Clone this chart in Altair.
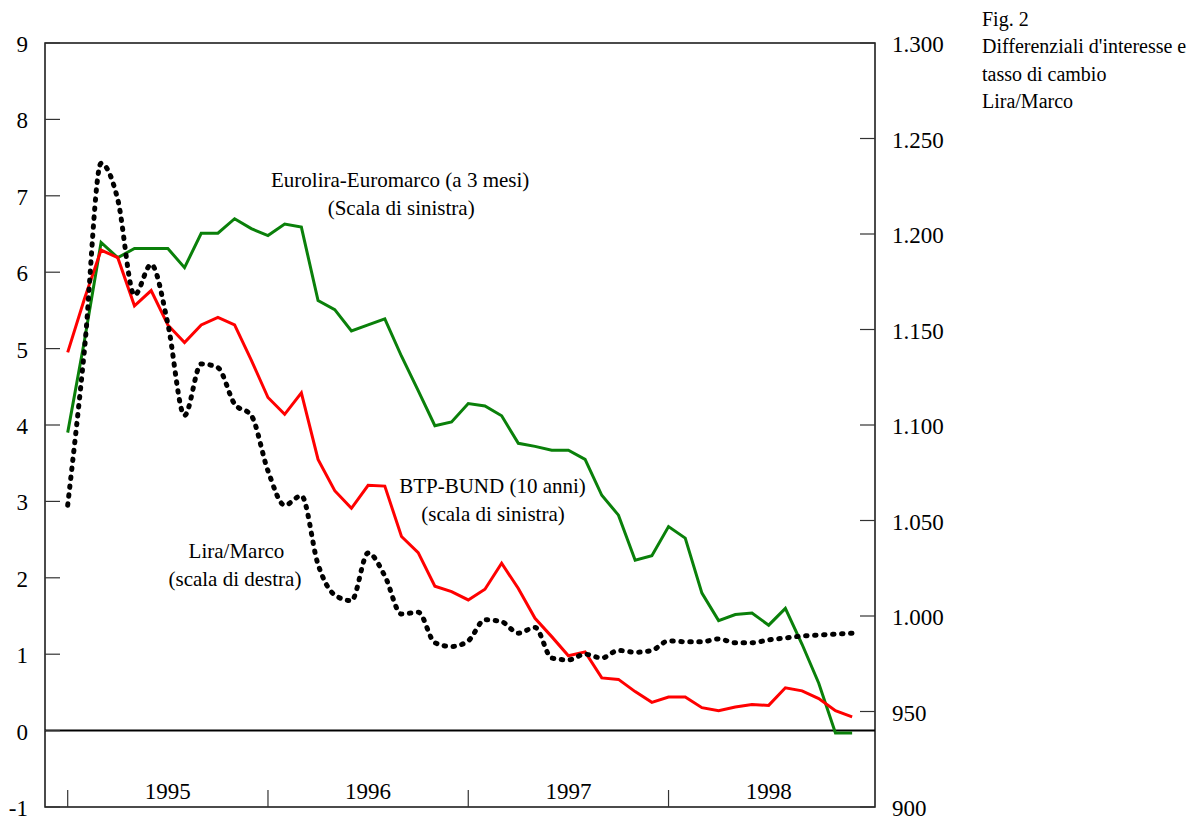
import altair as alt
import pandas as pd

# ---------------- data (monthly, Jan 1995 - Dec 1998) ----------------
months = list(range(48))

eurolira_euromarco = [3.90, 5.10, 6.39, 6.19, 6.31, 6.31, 6.31, 6.06, 6.51, 6.51, 6.70, 6.57,
                      6.48, 6.63, 6.59, 5.63, 5.51, 5.23, 5.31, 5.39, 4.90, 4.45, 3.99, 4.04,
                      4.28, 4.25, 4.12, 3.76, 3.72, 3.67, 3.67, 3.55, 3.08, 2.82, 2.23, 2.29,
                      2.67, 2.52, 1.80, 1.44, 1.52, 1.54, 1.38, 1.60, 1.13, 0.62, -0.03, -0.03]

btp_bund = [4.95, 5.65, 6.29, 6.19, 5.56, 5.76, 5.31, 5.08, 5.31, 5.41, 5.31, 4.85,
            4.36, 4.14, 4.42, 3.55, 3.14, 2.91, 3.21, 3.20, 2.54, 2.33, 1.89, 1.82,
            1.71, 1.85, 2.19, 1.86, 1.47, 1.23, 0.98, 1.03, 0.69, 0.67, 0.51, 0.37,
            0.44, 0.44, 0.30, 0.26, 0.31, 0.34, 0.33, 0.56, 0.52, 0.42, 0.26, 0.18]

lira_marco = [1058, 1139, 1237, 1218, 1168, 1184, 1153, 1105, 1132, 1130, 1111, 1105,
              1076, 1058, 1063, 1027, 1011, 1008, 1033, 1021, 1001, 1002, 986, 984,
              987, 998, 997, 991, 994, 978, 977, 980, 978, 982, 981, 982,
              987, 986.5, 986.5, 988, 986, 986, 987.5, 988.5, 989.5, 990, 990.5, 991]

years = ["1995", "1996", "1997", "1998"]
year_start_index = [0, 12, 24, 36]
year_mid_index = [6, 18, 30, 42]

left_ticks = list(range(-1, 10))
left_tick_labels = [str(v) for v in left_ticks]
right_ticks = list(range(900, 1301, 50))
right_tick_labels = [f"{v:,}".replace(",", ".") for v in right_ticks]

annotation_text = ["Eurolira-Euromarco (a 3 mesi)", "(Scala di sinistra)",
                   "BTP-BUND (10 anni)", "(scala di sinistra)",
                   "Lira/Marco", "(scala di destra)"]
title_lines = ["Fig. 2", "Differenziali d'interesse e", "tasso di cambio", "Lira/Marco"]

# ---------------- layout ----------------
W, H = 830, 764
FONT = "Liberation Serif"
MPX = 16.69           # pixels per month
X0 = 67.7             # pixel of first month from left edge of page
LEFT, TOP = 45, 43
X_DOMAIN = [(LEFT - X0) / MPX, (LEFT + W - X0) / MPX]

# annotation anchors (month index, left-scale value of baseline)
ann_m = [19.92, 19.98, 25.45, 25.48, 10.11, 10.02]
ann_v = [7.115, 6.749, 3.11, 2.743, 2.259, 1.893]

df = pd.DataFrame({"m": months, "eur": eurolira_euromarco, "btp": btp_bund, "lm": lira_marco})

xs = alt.Scale(domain=X_DOMAIN, nice=False, zero=False)
yl = alt.Scale(domain=[-1, 9], nice=False, zero=False)
yr = alt.Scale(domain=[900, 1300], nice=False, zero=False)

X = alt.X("m:Q", scale=xs, axis=None)

green = alt.Chart(df).mark_line(color="#0a800a", strokeWidth=3).encode(
    x=X, y=alt.Y("eur:Q", scale=yl, axis=None))
red = alt.Chart(df).mark_line(color="#ff0000", strokeWidth=3).encode(
    x=X, y=alt.Y("btp:Q", scale=yl, axis=None))

zero = alt.Chart(pd.DataFrame({"v": [0]})).mark_rule(color="black", strokeWidth=2).encode(
    y=alt.Y("v:Q", scale=yl, axis=None), x=alt.value(0), x2=alt.value(W))

lticks = alt.Chart(pd.DataFrame({"v": left_ticks})).mark_rule(color="#333", strokeWidth=1.2).encode(
    y=alt.Y("v:Q", scale=yl, axis=None), x=alt.value(0), x2=alt.value(15))

llabels = alt.Chart(pd.DataFrame({"v": left_ticks, "t": left_tick_labels})).mark_text(
    font=FONT, fontSize=23, color="black", align="right", baseline="middle", dy=2).encode(
    y=alt.Y("v:Q", scale=yl, axis=None), x=alt.value(-17), text="t:N")

yticks = alt.Chart(pd.DataFrame({"m": year_start_index})).mark_rule(color="#333", strokeWidth=1.2).encode(
    x=X, y=alt.value(H), y2=alt.value(H - 17))

ylabels = alt.Chart(pd.DataFrame({"m": year_mid_index, "year": years})).mark_text(
    font=FONT, fontSize=23, color="black", align="center", baseline="alphabetic").encode(
    x=X, y=alt.value(H - 8), text="year:N")

ann = alt.Chart(pd.DataFrame({"m": ann_m, "v": ann_v, "label": annotation_text})).mark_text(
    font=FONT, fontSize=21, color="black", align="center", baseline="alphabetic").encode(
    x=X, y=alt.Y("v:Q", scale=yl, axis=None), text="label:N")

title = alt.Chart(pd.DataFrame({"k": [0]})).mark_text(
    text=title_lines, font=FONT, fontSize=20, color="black", align="left",
    baseline="alphabetic", lineHeight=27.5).encode(
    x=alt.value(982 - LEFT), y=alt.value(25.5 - TOP))

dotted = alt.Chart(df).mark_line(color="black", strokeWidth=5, strokeDash=[1.5, 7.5],
                                 strokeCap="round", interpolate="monotone").encode(
    x=X, y=alt.Y("lm:Q", scale=yr, axis=None))

rticks = alt.Chart(pd.DataFrame({"v": right_ticks})).mark_rule(color="#333", strokeWidth=1.2).encode(
    y=alt.Y("v:Q", scale=yr, axis=None), x=alt.value(W - 15), x2=alt.value(W))

rlabels = alt.Chart(pd.DataFrame({"v": right_ticks, "t": right_tick_labels})).mark_text(
    font=FONT, fontSize=23, color="black", align="left", baseline="middle", dy=2).encode(
    y=alt.Y("v:Q", scale=yr, axis=None), x=alt.value(W + 17), text="t:N")

left_layer = alt.layer(zero, lticks, llabels, yticks, ylabels, ann, title, green, red)
right_layer = alt.layer(dotted, rticks, rlabels)

chart = alt.layer(left_layer, right_layer).resolve_scale(y="independent").properties(
    width=W, height=H, autosize="none",
    padding={"left": LEFT, "top": TOP, "right": 1194 - LEFT - W, "bottom": 817 - TOP - H},
    background="white",
).configure_view(stroke="#111", strokeWidth=1.5)

chart.save("out.html", embed_options={"renderer": "svg", "actions": False})
